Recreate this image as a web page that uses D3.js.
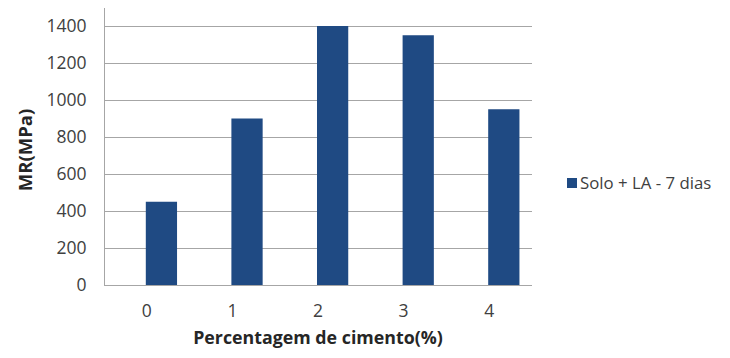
<!DOCTYPE html>
<html>
<head>
<meta charset="utf-8">
<script src="https://cdn.jsdelivr.net/npm/d3@7"></script>
<style>
  html, body { margin: 0; padding: 0; background: #fff; }
  svg { display: block; }
  text { font-family: "Open Sans", "Noto Sans", sans-serif; }
</style>
</head>
<body>
<svg id="chart" width="730" height="358"></svg>
<script>
// Resilient modulus by cement percentage
const categories = ["0", "1", "2", "3", "4"];
const seriesName = "Solo + LA - 7 dias";
const values = [450, 900, 1400, 1350, 950];
const yTicks = [0, 200, 400, 600, 800, 1000, 1200, 1400];

const svg = d3.select("#chart");
const plot = { left: 104, right: 532, top: 26, bottom: 285 };
const barColor = "#1f4a83";
const gridColor = "#a6a6a6";

const x = d3.scaleBand()
  .domain(categories)
  .range([plot.left, plot.right]);

const y = d3.scaleLinear()
  .domain([0, 1400])
  .range([plot.bottom, plot.top]);

// horizontal gridlines
svg.append("g")
  .selectAll("line")
  .data(yTicks.filter(t => t > 0))
  .join("line")
  .attr("x1", plot.left)
  .attr("x2", plot.right)
  .attr("y1", d => y(d) + 0.5)
  .attr("y2", d => y(d) + 0.5)
  .attr("stroke", gridColor)
  .attr("stroke-width", 1);

// bars sit to the right of each category centre
const barW = x.bandwidth() * 0.365;
svg.append("g")
  .selectAll("rect")
  .data(values)
  .join("rect")
  .attr("x", (d, i) => x(categories[i]) + x.bandwidth() / 2 - 1)
  .attr("y", d => y(d))
  .attr("width", barW)
  .attr("height", d => y(0) - y(d))
  .attr("fill", barColor);

// y axis
const yAxis = svg.append("g")
  .attr("transform", `translate(${plot.left + 0.5},0)`)
  .call(d3.axisLeft(y).tickValues(yTicks).tickFormat(d3.format("d")).tickSize(0).tickPadding(18));
yAxis.select(".domain").remove();
yAxis.append("line")
  .attr("x1", 0).attr("x2", 0)
  .attr("y1", 8).attr("y2", plot.bottom)
  .attr("stroke", gridColor);
yAxis.selectAll("text")
  .attr("font-size", 17.5)
  .attr("fill", "#404040");

// x axis
const xAxis = svg.append("g")
  .attr("transform", `translate(0,${plot.bottom + 0.5})`)
  .call(d3.axisBottom(x).tickSize(0).tickPadding(19));
xAxis.select(".domain").remove();
xAxis.append("line")
  .attr("x1", plot.left).attr("x2", plot.right)
  .attr("y1", 0).attr("y2", 0)
  .attr("stroke", gridColor);
xAxis.selectAll("text")
  .attr("font-size", 17.5)
  .attr("fill", "#404040");

// axis titles
svg.append("text")
  .attr("transform", "translate(32,150) rotate(-90)")
  .attr("text-anchor", "middle")
  .attr("font-size", 18.5)
  .attr("font-weight", "bold")
  .attr("fill", "#262626")
  .text("MR(MPa)");

svg.append("text")
  .attr("x", 318)
  .attr("y", 344)
  .attr("text-anchor", "middle")
  .attr("font-size", 17.8)
  .attr("font-weight", "bold")
  .attr("fill", "#262626")
  .text("Percentagem de cimento(%)");

// legend
const legend = svg.append("g").attr("transform", "translate(567,178)");
legend.append("rect")
  .attr("width", 10).attr("height", 10)
  .attr("fill", barColor);
legend.append("text")
  .attr("x", 13).attr("y", 11)
  .attr("font-size", 16.8)
  .attr("fill", "#404040")
  .text(seriesName);
</script>
</body>
</html>
